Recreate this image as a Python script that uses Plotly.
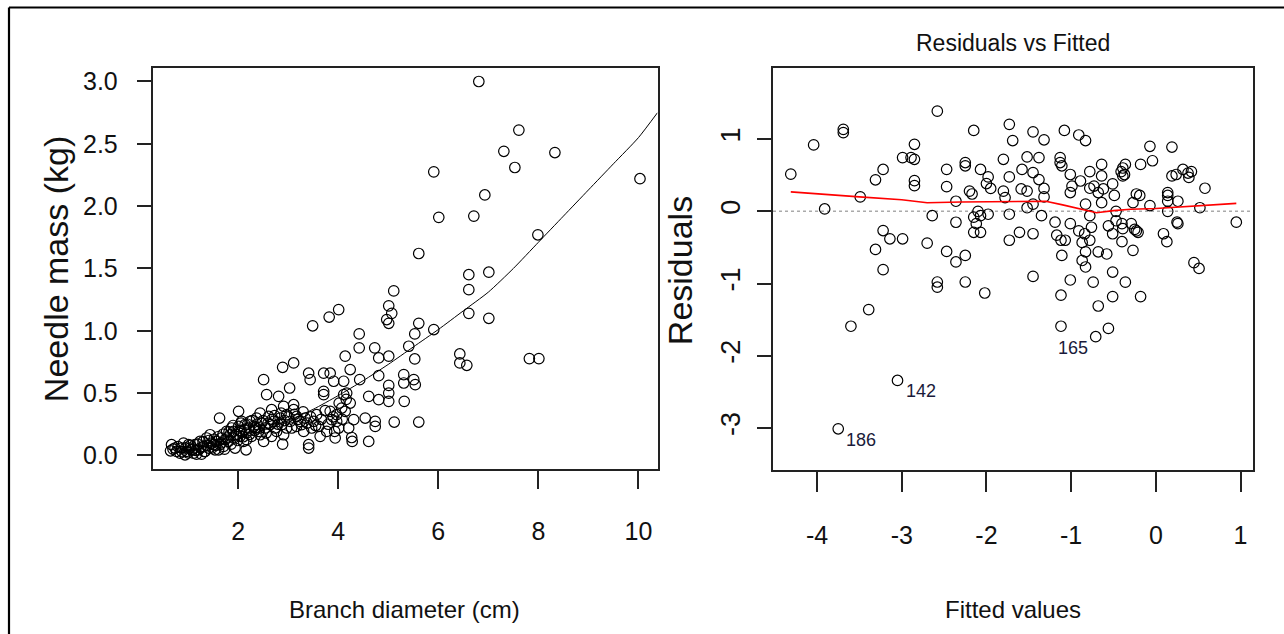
import plotly.graph_objects as go

W, H = 1284, 634

# ---------------- data: left panel (branch diameter vs needle mass) ----------------
diam = [6.81, 7.61, 7.31, 8.33, 7.53, 5.91, 10.03, 6.93, 6.01, 6.71, 7.99, 5.61, 6.61, 7.01, 6.61,
        5.11, 5.01, 5.07, 4.97, 5.01, 6.61, 7.01, 4.01, 3.82, 3.49, 5.61, 5.91, 5.53, 4.42, 4.42,
        4.73, 5.41, 6.43, 6.43, 6.57, 7.82, 8.01, 5.53, 5.01, 4.14, 4.81, 3.11, 2.89, 4.24, 3.41,
        3.44, 3.71, 3.84, 3.91, 4.11, 4.43, 4.81, 5.31, 5.51, 5.54, 5.31, 2.51, 2.57, 3.03, 2.81,
        3.71, 3.71, 4.17, 5.01, 5.01, 4.61, 4.81, 5.01, 5.32, 2.01, 1.63, 5.61, 5.12, 4.61, 4.28,
        4.27, 3.41, 3.41, 2.89, 4.74, 4.74, 4.54, 4.31, 3.93, 3.64, 4.01, 3.47, 3.24, 3.11, 3.11,
        2.91, 2.67, 2.44, 2.67, 2.51, 2.16, 2.17, 3.97, 3.87, 4.14, 4.24,
        0.65, 0.74, 0.84, 0.91, 0.97, 1.04, 1.11, 1.14, 1.21, 1.24, 1.27, 1.31, 1.37, 1.41, 1.44,
        1.51, 1.57, 1.61, 1.67, 1.71, 1.77, 1.81, 1.87, 1.91, 1.94, 1.97, 2.01, 2.07, 2.11, 2.14,
        2.21, 2.24, 2.31, 2.37, 2.41, 2.47, 2.54, 2.61, 2.71, 2.74, 2.84, 2.87, 2.97, 3.04, 3.17,
        3.27, 3.34, 3.51, 3.57, 3.84, 3.97, 4.07, 4.11,
        0.67, 0.77, 0.87, 0.94, 1.01, 1.07, 1.17, 1.34, 1.47, 1.54, 1.64, 1.74, 1.84, 1.91, 2.04,
        2.07, 2.17, 2.27, 2.34, 2.44, 2.64, 2.77, 2.91, 2.97, 3.17, 3.31, 3.61, 3.77, 3.94, 4.21,
        0.70, 0.80, 0.88, 0.95, 1.00, 1.05, 1.10, 1.15, 1.19, 1.25, 1.30, 1.33, 1.38, 1.42, 1.48,
        1.52, 1.56, 1.60, 1.66, 1.70, 1.73, 1.78, 1.82, 1.86, 1.90, 1.95, 1.99, 2.03, 2.06, 2.10,
        2.13, 2.19, 2.23, 2.28, 2.33, 2.38, 2.43, 2.50, 2.56, 2.60, 2.68, 2.73, 2.80, 2.86, 2.93,
        3.00, 3.07, 3.13, 3.20, 3.30, 3.38, 3.45, 3.55, 3.66, 3.74, 3.80, 3.90, 4.02, 4.08, 4.16]
mass = [3.00, 2.61, 2.44, 2.43, 2.31, 2.275, 2.22, 2.09, 1.91, 1.92, 1.77, 1.62, 1.45, 1.47, 1.33,
        1.32, 1.20, 1.14, 1.09, 1.06, 1.14, 1.10, 1.17, 1.11, 1.04, 1.06, 1.01, 0.975, 0.975, 0.863,
        0.863, 0.876, 0.814, 0.742, 0.723, 0.777, 0.777, 0.774, 0.796, 0.796, 0.782, 0.742, 0.707, 0.689, 0.66,
        0.608, 0.66, 0.66, 0.595, 0.595, 0.608, 0.64, 0.648, 0.608, 0.568, 0.581, 0.608, 0.488, 0.541, 0.474,
        0.514, 0.488, 0.50, 0.562, 0.50, 0.474, 0.447, 0.434, 0.434, 0.354, 0.30, 0.268, 0.268, 0.112, 0.112,
        0.144, 0.086, 0.059, 0.09, 0.273, 0.233, 0.30, 0.287, 0.193, 0.153, 0.22, 0.22, 0.273, 0.407, 0.367,
        0.394, 0.367, 0.34, 0.153, 0.112, 0.045, 0.126, 0.327, 0.287, 0.354, 0.42,
        0.037, 0.059, 0.018, 0.099, 0.032, 0.059, 0.018, 0.086, 0.045, 0.112, 0.010, 0.072, 0.14, 0.059, 0.166,
        0.086, 0.112, 0.045, 0.14, 0.072, 0.193, 0.112, 0.22, 0.14, 0.059, 0.166, 0.233, 0.193, 0.112, 0.247,
        0.22, 0.273, 0.233, 0.30, 0.193, 0.26, 0.22, 0.313, 0.273, 0.22, 0.30, 0.247, 0.327, 0.273, 0.313,
        0.247, 0.30, 0.273, 0.327, 0.354, 0.273, 0.38, 0.488,
        0.086, 0.032, 0.059, 0.005, 0.086, 0.045, 0.010, 0.032, 0.099, 0.045, 0.086, 0.126, 0.166, 0.193, 0.153,
        0.273, 0.18, 0.153, 0.22, 0.166, 0.247, 0.193, 0.166, 0.22, 0.233, 0.193, 0.233, 0.193, 0.14, 0.22,
        0.05, 0.07, 0.03, 0.06, 0.02, 0.08, 0.05, 0.04, 0.09, 0.06, 0.11, 0.03, 0.08, 0.12, 0.06,
        0.13, 0.08, 0.15, 0.10, 0.17, 0.05, 0.14, 0.19, 0.09, 0.24, 0.17, 0.12, 0.20, 0.26, 0.15,
        0.21, 0.25, 0.17, 0.28, 0.20, 0.25, 0.22, 0.28, 0.18, 0.26, 0.29, 0.32, 0.25, 0.34, 0.28,
        0.31, 0.22, 0.33, 0.29, 0.35, 0.26, 0.31, 0.24, 0.29, 0.36, 0.25, 0.31, 0.42, 0.29, 0.45]

# fitted curve
curve_x = [0.7, 1.0, 1.5, 2.0, 2.5, 3.0, 3.5, 4.0, 4.5, 5.0, 5.5, 6.0, 6.5, 7.0, 7.5, 8.0, 8.5, 9.0, 9.5, 10.0, 10.38]
curve_y = [0.018, 0.035, 0.075, 0.13, 0.20, 0.28, 0.37, 0.48, 0.60, 0.73, 0.87, 1.01, 1.16, 1.31, 1.50, 1.71, 1.92, 2.13, 2.34, 2.55, 2.75]

# ---------------- data: right panel (residuals vs fitted) ----------------
fitted = [-4.31, -4.04, -3.69, -3.69, -3.91, -3.49, -3.60, -3.39, -3.31, -3.22, -3.22, -3.14, -3.31, -3.22,
          -3.05, -3.75, -2.99, -2.99, -2.89, -2.85, -2.85, -2.85, -2.85, -2.64, -2.70, -2.58, -2.58, -2.58,
          -2.47, -2.47, -2.36, -2.36, -2.47, -2.36, -2.25, -2.25, -2.25, -2.25, -2.20, -2.15, -2.15, -2.07,
          -2.07, -2.07, -2.12, -2.02, -2.00, -1.98, -1.95, -1.98, -1.80, -1.73, -1.69, -1.73, -1.73, -1.73,
          -1.80, -1.78, -1.61, -1.58, -1.52, -1.52, -1.52, -1.45, -1.45, -1.45, -1.45, -1.38, -1.38, -1.32,
          -1.32, -1.32, -1.35, -1.19, -1.17, -1.13, -1.13, -1.11, -1.12, -1.11, -1.12, -1.12, -1.08, -1.01,
          -1.01, -1.01, -1.07, -0.91, -0.83, -0.91, -0.87, -0.87, -0.83, -0.83, -0.78, -0.78, -0.78, -0.76,
          -0.74, -0.68, -0.68, -0.64, -0.64, -0.64, -0.58, -0.56, -0.56, -0.71, -0.51, -0.51, -0.51, -0.51,
          -0.47, -0.49, -0.41, -0.39, -0.40, -0.40, -0.36, -0.36, -0.27, -0.25, -0.27, -0.18, -0.18, -0.19,
          -0.07, -0.04, -0.07, 0.09, 0.13, 0.14, 0.14, 0.19, 0.19, 0.24, 0.26, 0.25, 0.32, 0.39, 0.42,
          0.45, 0.51, 0.52, 0.58, 0.95,
          -2.17, -2.10, -2.15, -1.59, -1.45, -1.01, -0.99, -0.89, -0.73, -0.68, -0.62, -0.39, -0.37, -0.23,
          -0.21, -0.23, -0.29, -0.39, 0.14, 0.14, 0.26, 0.38, -0.47, -0.84, -0.78, -0.83]
resid = [0.515, 0.92, 1.135, 1.09, 0.033, 0.20, -1.59, -1.36, 0.437, 0.58, -0.266, -0.38, -0.527, -0.807,
         -2.34, -3.01, 0.744, -0.38, 0.744, 0.72, 0.928, 0.425, 0.356, -0.06, -0.44, 1.387, -0.978, -1.05,
         0.581, 0.342, 0.14, -0.151, -0.555, -0.70, -0.61, -0.978, 0.675, 0.63, 0.28, 1.12, -0.29, 0.58,
         -0.06, -0.29, -0.17, -1.13, 0.385, 0.477, 0.317, -0.04, 0.72, 1.204, 0.98, 0.477, -0.04, -0.40,
         0.28, 0.19, -0.29, 0.58, 0.753, 0.28, 0.05, 1.10, 0.537, -0.31, -0.90, 0.744, 0.44, 0.99,
         0.317, 0.20, -0.06, -0.15, -0.33, 0.744, 0.675, 0.63, -0.40, -0.61, -1.16, -1.59, 1.12, 0.51,
         -0.17, -0.95, -0.40, 1.057, 0.98, -0.27, -0.43, -0.68, -0.77, 0.10, 0.55, 0.32, -0.06, -0.22,
         -0.98, -1.31, -0.56, 0.65, 0.49, 0.12, -0.59, -0.20, -1.62, -1.735, 0.38, -0.31, -0.84, -1.18,
         0.00, 0.22, 0.55, 0.49, -0.17, -0.42, 0.65, -0.98, 0.12, -0.25, -0.54, 0.65, -1.18, 0.22,
         0.90, 0.70, 0.08, -0.31, -0.42, 0.22, 0.00, 0.89, 0.49, 0.51, 0.14, -0.15, 0.58, 0.47, 0.55,
         -0.71, -0.79, 0.05, 0.32, -0.15,
         0.24, 0.00, -0.08, 0.31, 0.10, 0.26, 0.35, 0.42, 0.35, 0.26, 0.31, 0.60, 0.51, -0.27,
         -0.29, 0.24, -0.17, -0.24, 0.26, 0.14, -0.17, 0.53, -0.13, -0.31, -0.40, -0.56]

# smoother (red)
smooth_x = [-4.31, -3.9, -3.5, -3.0, -2.7, -2.3, -1.8, -1.3, -1.1, -0.9, -0.7, -0.5, -0.3, 0.0, 0.3, 0.6, 0.95]
smooth_y = [0.27, 0.23, 0.20, 0.16, 0.12, 0.13, 0.14, 0.14, 0.09, 0.03, -0.02, 0.01, 0.03, 0.04, 0.06, 0.08, 0.11]

# labelled outliers
out_ids = ["186", "142", "165"]
out_x = [-3.75, -3.05, -0.71]
out_y = [-3.01, -2.34, -1.735]

# tick labels
left_xticks = [2, 4, 6, 8, 10]
left_yticks = [0.0, 0.5, 1.0, 1.5, 2.0, 2.5, 3.0]
left_yticktext = ["0.0", "0.5", "1.0", "1.5", "2.0", "2.5", "3.0"]
right_xticks = [-4, -3, -2, -1, 0, 1]
right_xticktext = ["-4", "-3", "-2", "-1", "0", "1"]
right_yticks = [-3, -2, -1, 0, 1]
right_yticktext = ["-3", "-2", "-1", "0", "1"]

# ---------------- styling ----------------
FONT = "Liberation Sans, Arial, sans-serif"
INK = "#111111"
BOX = "#222222"

def px(xp):
    return xp / W

def py(yp):
    return 1 - yp / H

fig = go.Figure()

mk = dict(symbol="circle-open", size=10.5, color="black", line=dict(width=1.2, color="black"))

fig.add_trace(go.Scatter(x=diam, y=mass, mode="markers", marker=mk, xaxis="x", yaxis="y",
                         showlegend=False, hoverinfo="skip"))
fig.add_trace(go.Scatter(x=curve_x, y=curve_y, mode="lines", line=dict(color="black", width=1, shape="spline", smoothing=0.6),
                         xaxis="x", yaxis="y", showlegend=False, hoverinfo="skip"))

fig.add_trace(go.Scatter(x=fitted, y=resid, mode="markers", marker=mk, xaxis="x2", yaxis="y2",
                         showlegend=False, hoverinfo="skip"))
fig.add_trace(go.Scatter(x=smooth_x, y=smooth_y, mode="lines", line=dict(color="#ff0000", width=1.6),
                         xaxis="x2", yaxis="y2", showlegend=False, hoverinfo="skip"))

common = dict(showgrid=False, zeroline=False, showline=True, mirror=True, linecolor=BOX, linewidth=1.5,
              ticks="outside", tickcolor=BOX, tickwidth=1.5, fixedrange=True)

TICK_SIZE = 25

fig.update_layout(
    width=W, height=H,
    margin=dict(l=0, r=0, t=0, b=0),
    paper_bgcolor="white", plot_bgcolor="white",
    xaxis=dict(domain=[px(152.5), px(657.5)], range=[0.29, 10.38], anchor="y",
               tickvals=left_xticks, ticklen=19, ticklabelstandoff=21,
               tickfont=dict(family=FONT, size=TICK_SIZE, color=INK), **common),
    yaxis=dict(domain=[py(469), py(67)], range=[-0.105, 3.11], anchor="x",
               tickvals=left_yticks, ticktext=left_yticktext, ticklen=14, ticklabelstandoff=14,
               tickfont=dict(family=FONT, size=TICK_SIZE, color=INK), **common),
    xaxis2=dict(domain=[px(773), px(1253)], range=[-4.52, 1.147], anchor="y2",
                tickvals=right_xticks, ticktext=right_xticktext, ticklen=20, ticklabelstandoff=22,
                tickfont=dict(family=FONT, size=TICK_SIZE, color=INK), **common),
    yaxis2=dict(domain=[py(470.5), py(67.5)], range=[-3.58, 1.98], anchor="x2",
                tickvals=right_yticks, ticktext=right_yticktext, ticklen=14, ticklabelstandoff=6,
                tickangle=-90, tickfont=dict(family=FONT, size=27, color=INK), **common),
)

# zero reference line (dotted grey)
fig.add_shape(type="line", xref="x2 domain", yref="y2", x0=0, x1=1, y0=0, y1=0,
              line=dict(color="#aaaaaa", width=1.5, dash="dot"), layer="below")

# outer frame (top and left edges visible)
fig.add_shape(type="line", xref="paper", yref="paper", x0=px(9), x1=1.01, y0=py(6.5), y1=py(6.5),
              line=dict(color="black", width=2.2))
fig.add_shape(type="line", xref="paper", yref="paper", x0=px(9), x1=px(9), y0=py(6.5), y1=-0.01,
              line=dict(color="black", width=2.2))

ann = []
# axis titles
ann.append(dict(text="Branch diameter (cm)", x=px(404), y=py(610), xref="paper", yref="paper",
                xanchor="center", yanchor="middle", showarrow=False,
                font=dict(family=FONT, size=24, color=INK)))
ann.append(dict(text="Fitted values", x=px(1013), y=py(610), xref="paper", yref="paper",
                xanchor="center", yanchor="middle", showarrow=False,
                font=dict(family=FONT, size=24, color=INK)))
ann.append(dict(text="Needle mass (kg)", x=px(56), y=py(269), xref="paper", yref="paper",
                xanchor="center", yanchor="middle", showarrow=False, textangle=-90,
                font=dict(family=FONT, size=34, color=INK)))
ann.append(dict(text="Residuals", x=px(680), y=py(270), xref="paper", yref="paper",
                xanchor="center", yanchor="middle", showarrow=False, textangle=-90,
                font=dict(family=FONT, size=34, color=INK)))
ann.append(dict(text="Residuals vs Fitted", x=px(1013), y=py(42), xref="paper", yref="paper",
                xanchor="center", yanchor="middle", showarrow=False,
                font=dict(family=FONT, size=23, color=INK)))
# outlier labels
for i, (lx, ly) in enumerate(zip(out_x, out_y)):
    right_side = lx < -1.5
    ann.append(dict(text=out_ids[i], x=lx, y=ly, xref="x2", yref="y2", showarrow=False,
                    xanchor="left" if right_side else "right", yanchor="middle",
                    xshift=6 if right_side else -6, yshift=-11,
                    font=dict(family=FONT, size=18, color="#1a1a3a")))
fig.update_layout(annotations=ann)

fig.write_html("out.html")
